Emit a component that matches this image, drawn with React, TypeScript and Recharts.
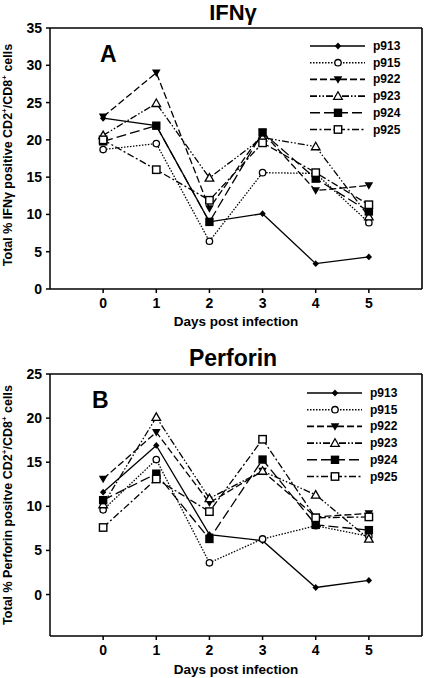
import React from 'react';
import { LineChart, Line, XAxis, YAxis, Legend, ReferenceLine } from 'recharts';

const days = [0, 1, 2, 3, 4, 5];
const seriesNames = ['p913', 'p915', 'p922', 'p923', 'p924', 'p925'];

// IFNγ panel (A)
const ifnP913 = [22.9, 21.9, 9.0, 10.1, 3.4, 4.3];
const ifnP915 = [18.7, 19.5, 6.4, 15.6, 15.5, 8.9];
const ifnP922 = [23.1, 29.0, 10.8, 21.0, 13.2, 13.9];
const ifnP923 = [20.6, 24.9, 14.9, 20.3, 19.1, 9.7];
const ifnP924 = [19.8, 21.9, 9.0, 21.0, 14.8, 10.4];
const ifnP925 = [20.0, 16.0, 11.9, 19.6, 15.6, 11.3];

// Perforin panel (B)
const perP913 = [11.6, 16.9, 6.8, 6.1, 0.8, 1.6];
const perP915 = [9.6, 15.3, 3.6, 6.3, 7.8, 6.6];
const perP922 = [13.1, 18.4, 10.4, 14.0, 8.8, 9.2];
const perP923 = [10.2, 20.1, 10.9, 14.0, 11.3, 6.3];
const perP924 = [10.7, 13.7, 6.3, 15.3, 7.9, 7.3];
const perP925 = [7.6, 13.1, 9.4, 17.6, 8.7, 8.8];

const ifnTicks = [0, 5, 10, 15, 20, 25, 30, 35];
const perTicks = [0, 5, 10, 15, 20, 25];

const FONT = 'Arial, "Liberation Sans", Helvetica, sans-serif';

const buildRows = (cols: number[][]) =>
  days.map((d, i) => {
    const row: Record<string, number> = { day: d };
    seriesNames.forEach((n, k) => (row[n] = cols[k][i]));
    return row;
  });

const ifnData = buildRows([ifnP913, ifnP915, ifnP922, ifnP923, ifnP924, ifnP925]);
const perData = buildRows([perP913, perP915, perP922, perP923, perP924, perP925]);

type Style = { dash?: string; marker: string };
const styles: Record<string, Style> = {
  p913: { dash: undefined, marker: 'diamond' },
  p915: { dash: '1.5 1.5', marker: 'circle' },
  p922: { dash: '7 3', marker: 'triDown' },
  p923: { dash: '7 2 1.5 2 1.5 2', marker: 'triUp' },
  p924: { dash: '10 4', marker: 'squareFill' },
  p925: { dash: '7 2.5 2 2.5', marker: 'square' },
};

const Marker = ({ kind, cx, cy }: { kind: string; cx: number; cy: number }) => {
  switch (kind) {
    case 'diamond':
      return <path d={`M${cx},${cy - 3.4}L${cx + 3.2},${cy}L${cx},${cy + 3.4}L${cx - 3.2},${cy}Z`} fill="#000" />;
    case 'circle':
      return <circle cx={cx} cy={cy} r={3.2} fill="#fff" stroke="#000" strokeWidth={1.3} />;
    case 'triDown':
      return <path d={`M${cx - 4.3},${cy - 3.2}L${cx + 4.3},${cy - 3.2}L${cx},${cy + 4.3}Z`} fill="#000" />;
    case 'triUp':
      return <path d={`M${cx},${cy - 4.3}L${cx + 4.3},${cy + 3.2}L${cx - 4.3},${cy + 3.2}Z`} fill="#fff" stroke="#000" strokeWidth={1.3} />;
    case 'squareFill':
      return <rect x={cx - 4.2} y={cy - 4.2} width={8.4} height={8.4} fill="#000" />;
    default:
      return <rect x={cx - 3.7} y={cy - 3.7} width={7.4} height={7.4} fill="#fff" stroke="#000" strokeWidth={1.4} />;
  }
};

const renderDot = (name: string) => (props: any) => {
  const { cx, cy, index } = props;
  return (
    <g key={`${name}-${index}`}>
      <Marker kind={styles[name].marker} cx={cx} cy={cy} />
    </g>
  );
};

const LegendBox = () => (
  <svg width={115} height={100} style={{ overflow: 'visible' }}>
    {seriesNames.map((n, i) => {
      const y = 6 + i * 16.7;
      return (
        <g key={n}>
          <line x1={0} x2={55} y1={y} y2={y} stroke="#000" strokeWidth={1.6} strokeDasharray={styles[n].dash} />
          <Marker kind={styles[n].marker} cx={28} cy={y} />
          <text x={63} y={y + 4} fontSize={12} fontWeight="bold" fill="#000" fontFamily={FONT}>
            {n}
          </text>
        </g>
      );
    })}
  </svg>
);

const tickStyle = { fill: '#000', fontSize: 14, fontWeight: 'bold' as const, fontFamily: FONT };

const Panel = ({
  data,
  domain,
  ticks,
  height,
  marginTop,
  marginBottom,
  legendLeft,
  legendTop,
}: {
  data: Record<string, number>[];
  domain: [number, number];
  ticks: number[];
  height: number;
  marginTop: number;
  marginBottom: number;
  legendLeft: number;
  legendTop: number;
}) => (
  <LineChart width={425} height={height} data={data} margin={{ top: marginTop, right: 3, bottom: marginBottom, left: 20 }}>
    <XAxis
      dataKey="day"
      type="number"
      domain={[-1, 6]}
      ticks={days}
      height={30}
      tickSize={4}
      tickMargin={5}
      stroke="#000"
      strokeWidth={1.5}
      tick={tickStyle}
      allowDataOverflow
    />
    <YAxis
      type="number"
      domain={domain}
      ticks={ticks}
      width={30}
      tickSize={4}
      tickMargin={4}
      stroke="#000"
      strokeWidth={1.5}
      tick={tickStyle}
      allowDataOverflow
    />
    {/* top and right edges of the plot frame */}
    <ReferenceLine y={domain[1]} stroke="#000" strokeWidth={1.6} ifOverflow="visible" />
    <ReferenceLine x={6} stroke="#000" strokeWidth={1.6} ifOverflow="visible" />
    <Legend
      layout="vertical"
      align="center"
      verticalAlign="middle"
      wrapperStyle={{ left: legendLeft, top: legendTop, width: 115, height: 100 }}
      content={() => <LegendBox />}
    />
    {seriesNames.map((n) => (
      <Line
        key={n}
        dataKey={n}
        type="linear"
        stroke="#000"
        strokeWidth={1.3}
        strokeDasharray={styles[n].dash}
        dot={renderDot(n)}
        activeDot={false}
        isAnimationActive={false}
      />
    ))}
  </LineChart>
);

const abs = (extra: React.CSSProperties): React.CSSProperties => ({
  position: 'absolute',
  fontFamily: FONT,
  fontWeight: 'bold',
  color: '#000',
  whiteSpace: 'nowrap',
  lineHeight: 1,
  ...extra,
});

const YLabel = ({ cy, children }: { cy: number; children: React.ReactNode }) => (
  <div
    style={abs({
      left: 8,
      top: cy,
      fontSize: 12.5,
      transform: 'translate(-50%, -50%) rotate(-90deg)',
    })}
  >
    {children}
  </div>
);

export default function App() {
  return (
    <div style={{ position: 'absolute', left: 0, top: 0, width: 425, height: 678, background: '#fff', fontFamily: FONT }}>
      <div style={{ position: 'absolute', left: 0, top: 0 }}>
        <Panel data={ifnData} domain={[0, 35]} ticks={ifnTicks} height={330} marginTop={28} marginBottom={11} legendLeft={310} legendTop={40} />
      </div>
      <div style={{ position: 'absolute', left: 0, top: 340 }}>
        <Panel data={perData} domain={[-4.7, 25]} ticks={perTicks} height={338} marginTop={34} marginBottom={12} legendLeft={307} legendTop={47} />
      </div>

      <div style={abs({ left: 233, top: 13, fontSize: 22, transform: 'translate(-50%, -50%)' })}>IFNγ</div>
      <div style={abs({ left: 233, top: 358, fontSize: 23, transform: 'translate(-50%, -50%)' })}>Perforin</div>

      <div style={abs({ left: 100, top: 43, fontSize: 23 })}>A</div>
      <div style={abs({ left: 92, top: 389, fontSize: 23 })}>B</div>

      <div style={abs({ left: 236, top: 322, fontSize: 13.5, transform: 'translate(-50%, -50%)' })}>Days post infection</div>
      <div style={abs({ left: 236, top: 670, fontSize: 13.5, transform: 'translate(-50%, -50%)' })}>Days post infection</div>

      <YLabel cy={155}>
        Total % IFNγ positive CD2<sup style={{ fontSize: 8 }}>+</sup>/CD8<sup style={{ fontSize: 8 }}>+</sup> cells
      </YLabel>
      <YLabel cy={505}>
        Total % Perforin positve CD2<sup style={{ fontSize: 8 }}>+</sup>/CD8<sup style={{ fontSize: 8 }}>+</sup> cells
      </YLabel>
    </div>
  );
}
